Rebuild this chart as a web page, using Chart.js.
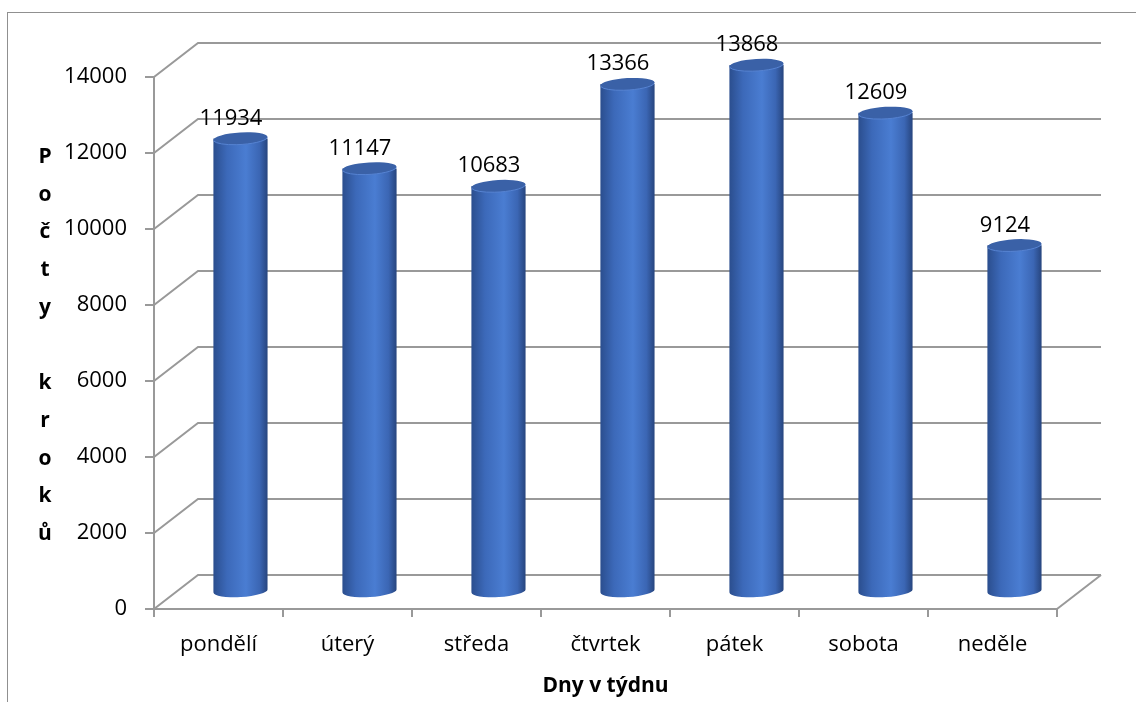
<!DOCTYPE html>
<html>
<head>
<meta charset="utf-8">
<script src="https://cdn.jsdelivr.net/npm/chart.js@4/dist/chart.umd.min.js"></script>
<style>
  html, body { margin: 0; padding: 0; background: #fff; }
</style>
</head>
<body>
<canvas id="stepsChart" width="1136" height="702"></canvas>
<script>
// data
const days = ['pondělí', 'úterý', 'středa', 'čtvrtek', 'pátek', 'sobota', 'neděle'];
const steps = [11934, 11147, 10683, 13366, 13868, 12609, 9124];
const yMax = 14000;
const yStep = 2000;
const yTitle = 'Počty kroků';
const xTitle = 'Dny v týdnu';

// 3d look
const DX = 44, DY = -34;
const gridColor = '#999999';
const font = 'Open Sans';

const wall3d = {
  id: 'wall3d',
  beforeDraw(chart) {
    const ctx = chart.ctx;
    ctx.save();
    ctx.strokeStyle = '#909090';
    ctx.lineWidth = 1;
    ctx.strokeRect(7.5, 12.5, 1200, 800);
    ctx.restore();
  },
  beforeDatasetsDraw(chart) {
    const {ctx, chartArea: ca, scales: {y}} = chart;
    ctx.save();
    ctx.strokeStyle = gridColor;
    ctx.lineWidth = 2;
    y.ticks.forEach(t => {
      const py = y.getPixelForValue(t.value);
      ctx.beginPath();
      ctx.moveTo(ca.left, py);
      ctx.lineTo(ca.left + DX, py + DY);
      ctx.lineTo(ca.right + DX, py + DY);
      ctx.stroke();
    });
    // right edge of the floor
    ctx.beginPath();
    ctx.moveTo(ca.right, ca.bottom);
    ctx.lineTo(ca.right + DX, ca.bottom + DY);
    ctx.stroke();

    // stacked y title
    ctx.fillStyle = '#000';
    ctx.font = 'bold 21px "' + font + '"';
    ctx.textAlign = 'center';
    ctx.textBaseline = 'middle';
    Array.from(yTitle).forEach((ch, i) => {
      ctx.fillText(ch, 45, 157 + i * 37.7);
    });
    ctx.restore();
  },
  afterDatasetsDraw(chart) {
    const ctx = chart.ctx;
    const meta = chart.getDatasetMeta(0);
    ctx.save();
    meta.data.forEach((bar, i) => {
      const {x, y, base, width} = bar.getProps(['x', 'y', 'base', 'width'], true);
      const cx = x + DX / 2, top = y + DY / 2, bot = base + DY / 2;
      const rx = width / 2, ry = 6, tilt = -0.06;

      const g = ctx.createLinearGradient(cx - rx, 0, cx + rx, 0);
      g.addColorStop(0, '#2b4e8e');
      g.addColorStop(0.25, '#3c69b9');
      g.addColorStop(0.6, '#4a7dd2');
      g.addColorStop(0.85, '#3b66b4');
      g.addColorStop(1, '#27457e');

      ctx.beginPath();
      ctx.moveTo(cx - rx, top);
      ctx.lineTo(cx - rx, bot);
      ctx.ellipse(cx, bot, rx, ry, tilt, Math.PI, 0, true);
      ctx.lineTo(cx + rx, top);
      ctx.closePath();
      ctx.fillStyle = g;
      ctx.fill();

      ctx.beginPath();
      ctx.ellipse(cx, top, rx, ry, tilt, 0, Math.PI * 2);
      ctx.fillStyle = '#3a61a7';
      ctx.fill();
      ctx.beginPath();
      ctx.ellipse(cx, top, rx, ry, tilt, 0.15, Math.PI - 0.15);
      ctx.strokeStyle = '#5683d2';
      ctx.lineWidth = 1;
      ctx.stroke();

      ctx.fillStyle = '#000';
      ctx.font = '22px "' + font + '"';
      ctx.textAlign = 'center';
      ctx.textBaseline = 'middle';
      ctx.fillText(String(steps[i]), cx - 9.5, top - 20);
    });
    ctx.restore();
  }
};

new Chart(document.getElementById('stepsChart'), {
  type: 'bar',
  data: {
    labels: days,
    datasets: [{
      label: yTitle,
      data: steps,
      backgroundColor: 'rgba(0,0,0,0)',
      barPercentage: 0.42,
      categoryPercentage: 1
    }]
  },
  options: {
    responsive: false,
    animation: false,
    devicePixelRatio: 1,
    layout: {padding: {top: 77, right: 79, bottom: 0, left: 0}},
    plugins: {legend: {display: false}, tooltip: {enabled: false}},
    scales: {
      x: {
        afterFit(scale) { scale.height = 93; },
        grid: {display: true, drawOnChartArea: false, offset: true, tickLength: 8, color: gridColor, lineWidth: 2},
        border: {display: true, color: gridColor, width: 2},
        ticks: {color: '#000', font: {family: font, size: 22}, padding: 15, maxRotation: 0},
        title: {display: true, text: xTitle, color: '#000', font: {family: font, size: 21, weight: 'bold'}, padding: {top: 0, bottom: 3}}
      },
      y: {
        min: 0,
        max: yMax,
        afterFit(scale) { scale.width = 154; },
        grid: {display: true, drawOnChartArea: false, tickLength: 9, color: gridColor, lineWidth: 2},
        border: {display: true, color: gridColor, width: 2},
        ticks: {stepSize: yStep, color: '#000', font: {family: font, size: 22}, padding: 18,
          callback: v => String(v)}
      }
    }
  },
  plugins: [wall3d]
});
</script>
</body>
</html>
